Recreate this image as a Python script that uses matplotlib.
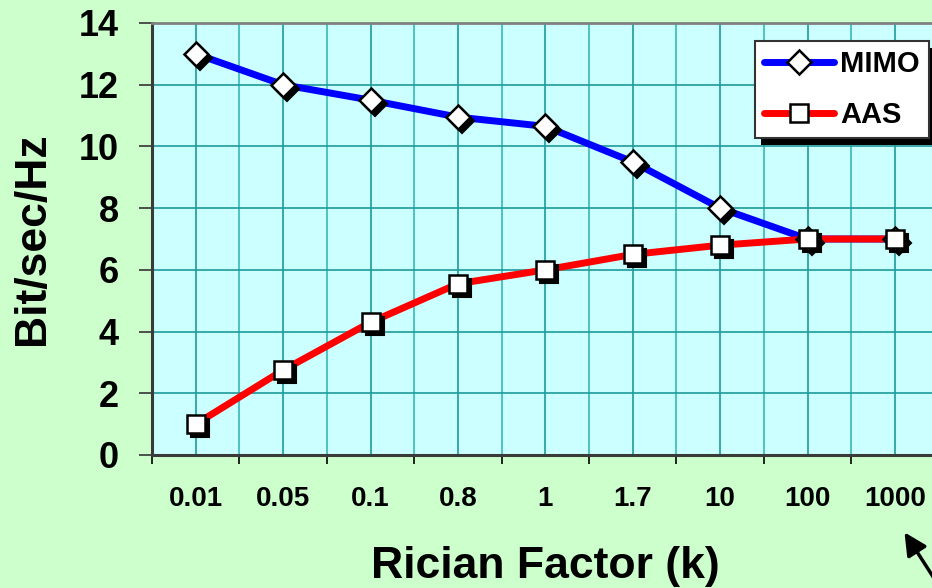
import matplotlib
matplotlib.use("Agg")
import matplotlib.pyplot as plt
import matplotlib.transforms as mtransforms
from matplotlib.patches import Rectangle
from matplotlib.lines import Line2D
import numpy as np

plt.rcParams['font.family'] = ['Liberation Sans', 'DejaVu Sans']
plt.rcParams['font.weight'] = 'bold'

# Rician K factor categories and spectral efficiency (bit/sec/Hz)
k_labels = ['0.01', '0.05', '0.1', '0.8', '1', '1.7', '10', '100', '1000']
mimo = [13.0, 12.0, 11.5, 10.95, 10.65, 9.5, 8.0, 7.0, 7.0]
aas = [1.0, 2.75, 4.3, 5.55, 6.0, 6.5, 6.8, 7.0, 7.0]

W, H = 932, 588
fig = plt.figure(figsize=(W / 100, H / 100), dpi=100, facecolor='#CCFFCC')
# plot area runs a little past the right edge of the figure
ax = fig.add_axes([152 / W, (H - 455) / H, 786.6 / W, 432 / H])
ax.set_facecolor('#CCFFFF')

x = np.arange(len(k_labels))
ax.set_xlim(-0.5, len(k_labels) - 0.5)
ax.set_ylim(0, 14)

# grid: every category centre and boundary, every 2 on y
for xv in x:
    ax.axvline(xv, color='#1f9a9a', lw=1.2, zorder=1)
for xv in x[1:] - 0.5:
    ax.axvline(xv, color='#38b8b8', lw=1.2, zorder=1)
for yv in range(2, 14, 2):
    ax.axhline(yv, color='#1f9a9a', lw=1.2, zorder=1)

shadow = mtransforms.offset_copy(ax.transData, fig=fig, x=4, y=-4, units='dots')

def draw_series(vals, color, marker, ms):
    ax.plot(x, vals, color=color, lw=5, solid_capstyle='round', zorder=3)
    ax.plot(x, vals, ls='none', marker=marker, ms=ms, mfc='black', mec='black',
            mew=1.5, transform=shadow, zorder=4)
    ax.plot(x, vals, ls='none', marker=marker, ms=ms, mfc='white', mec='black',
            mew=1.8, zorder=5)

draw_series(mimo, '#0000FF', 'D', 12.5)
draw_series(aas, '#FF0000', 's', 12.5)

# ticks: majors at category boundaries, labels on minors at centres
ax.set_xticks(np.arange(-0.5, len(k_labels) - 0.5, 1.0))
ax.set_xticklabels([])
ax.set_xticks(x, minor=True)
ax.set_xticklabels(k_labels, minor=True, fontsize=20, fontweight='bold')
ax.tick_params(axis='x', which='major', direction='out', length=6.5, width=1.2, color='black')
ax.tick_params(axis='x', which='minor', length=0, pad=22)
ax.set_yticks(range(0, 15, 2))
ax.set_yticklabels([str(v) for v in range(0, 15, 2)], fontsize=26, fontweight='bold')
ax.tick_params(axis='y', direction='out', length=9.4, width=1.2, color='#333333', pad=14.4)

for side in ('left', 'bottom'):
    ax.spines[side].set_color('#3a3a3a')
    ax.spines[side].set_linewidth(2.2)
ax.spines['top'].set_color('#808080')
ax.spines['top'].set_linewidth(2)
ax.spines['right'].set_visible(False)

ax.set_ylabel('Bit/sec/Hz', fontsize=32, fontweight='bold')
ax.yaxis.set_label_coords(-0.126, 0.5)
ax.set_xlabel('Rician Factor (k)', fontsize=32, fontweight='bold')
ax.xaxis.set_label_coords(0.5, -0.21)

# legend handles show line and marker together
h_mimo = Line2D([], [], color='#0000FF', lw=5, marker='D', ms=12.5, mfc='white',
                mec='black', mew=1.8, solid_capstyle='round')
h_aas = Line2D([], [], color='#FF0000', lw=5, marker='s', ms=12.5, mfc='white',
               mec='black', mew=1.8, solid_capstyle='round')
leg = ax.legend([h_mimo, h_aas], ['MIMO', 'AAS'],
                loc='upper left', bbox_to_anchor=(755 / W, 1 - 41 / H),
                bbox_transform=fig.transFigure, borderaxespad=0,
                prop={'size': 21, 'weight': 'bold'}, frameon=True, fancybox=False,
                framealpha=1, edgecolor='#333333', handlelength=2.4,
                handletextpad=0.2, labelspacing=0.78, borderpad=0.32)
leg.get_frame().set_linewidth(1.5)
leg.set_zorder(10)

# black drop shadow behind the legend box
fig.canvas.draw()
bb = leg.get_window_extent()
ax.add_patch(Rectangle((bb.x0 + 6, bb.y0 - 7), bb.width, bb.height,
                       transform=mtransforms.IdentityTransform(), facecolor='black',
                       edgecolor='none', clip_on=False, zorder=9))

# arrow pointing at the last category
ax.annotate('', xy=(903, H - 530), xycoords='figure pixels',
            xytext=(948, H - 600), textcoords='figure pixels',
            arrowprops=dict(arrowstyle='-|>', color='black', lw=2.5,
                            mutation_scale=34),
            annotation_clip=False)

fig.savefig('out.png', dpi=100, facecolor=fig.get_facecolor())
